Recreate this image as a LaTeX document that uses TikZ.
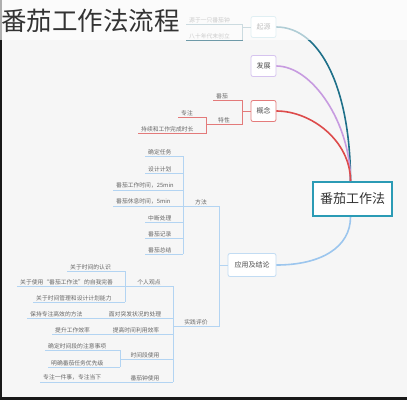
\documentclass[tikz,border=0pt]{standalone}
\usepackage{fontspec}
\setmainfont{Noto Sans CJK SC}
\definecolor{bgc}{HTML}{F6F6F6}
\definecolor{txtc}{HTML}{666666}
\definecolor{qyline}{HTML}{1E7089}
\definecolor{qyleaf}{HTML}{6E9AA8}
\definecolor{qyborder}{HTML}{A9D3DF}
\definecolor{fzline}{HTML}{C79BE0}
\definecolor{fzborder}{HTML}{D6C4EF}
\definecolor{gnline}{HTML}{DD4B4B}
\definecolor{gnleaf}{HTML}{E37A7A}
\definecolor{gnborder}{HTML}{E47B7B}
\definecolor{yyline}{HTML}{9CC6EE}
\definecolor{yyleaf}{HTML}{B3D4F2}
\definecolor{yyborder}{HTML}{C2DCF3}
\definecolor{ctrc}{HTML}{2B9BB5}
\tikzset{
  sm/.style={font=\fontsize{5.8}{6}\selectfont, text=txtc, inner xsep=3pt, inner ysep=1.2pt, anchor=south west},
  midleaf/.style={font=\fontsize{5.8}{6}\selectfont, text=txtc, inner xsep=0pt, inner ysep=1.2pt, anchor=south},
  topic/.style={draw, fill=white, rounded corners=2pt, line width=0.8pt, minimum width=25pt, minimum height=21pt, inner sep=2pt, font=\fontsize{7}{8}\selectfont, text=black!70},
  branch/.style={line width=1.6pt},
  lk/.style={line width=0.6pt}
}
\begin{document}
\begin{tikzpicture}[x=1pt,y=-1pt]
\useasboundingbox (0,0) rectangle (407,400);
\fill[bgc] (0,0) rectangle (407,400);

% main topics
\node[topic, draw=qyborder] (qy) at (263.5,27) {起源};
\node[topic, draw=fzborder] (fz) at (263.5,66) {发展};
\node[topic, draw=gnborder] (gn) at (263.5,111) {概念};
\node[topic, draw=yyborder, minimum width=48pt, minimum height=23pt] (yy) at (252,265) {应用及结论};
\node[draw=ctrc, line width=2pt, fill=white, minimum width=79pt, minimum height=34pt, inner sep=2pt, font=\fontsize{13}{14}\selectfont, text=black!80] (c) at (352.5,199) {番茄工作法};

% branches
\draw[branch, qyline] (qy.east) .. controls +(45,0) and +(0,-90) .. ([xshift=-2pt]c.north);
\draw[branch, fzline] (fz.east) .. controls +(36,0) and +(0,-58) .. ([xshift=-2pt]c.north);
\draw[branch, gnline] (gn.east) .. controls +(35,0) and +(0,-40) .. ([xshift=-2pt]c.north);
\draw[branch, yyline] (yy.east) .. controls +(45,0) and +(0,30) .. ([xshift=-2pt]c.south);

% bracket x positions
\coordinate (qbr) at (242,0);
\coordinate (gbr) at (242,0);
\coordinate (tbr) at (206,0);
\coordinate (abr) at (219,0);
\coordinate (fbr) at (183,0);
\coordinate (sbr) at (173,0);
\coordinate (pbr) at (125,0);
\coordinate (rbr) at (100,0);
\coordinate (dbr) at (120,0);

% 起源
\node[sm] (q1) at (186,24) {源于一只番茄钟};
\node[sm] (q2) at (186,40) {八十年代末创立};
\draw[lk, qyleaf] (q1.south west) -- (q1.south -| qbr) -- (q2.south -| qbr) -- (q2.south west);
\draw[lk, qyleaf] (qy.west) -- (qy.west -| qbr);

% 概念
\node[sm] (g1) at (213,100) {番茄};
\node[midleaf] (g2) at (224,124) {特性};
\node[sm] (g21) at (178,117) {专注};
\node[sm] (g22) at (138,133) {持续和工作完成时长};
\draw[lk, gnleaf] (g1.south west) -- (g1.south -| gbr) -- (g2.south -| gbr) -- (g2.south -| tbr);
\draw[lk, gnleaf] (gn.west) -- (gn.west -| gbr);
\draw[lk, gnleaf] (g21.south west) -- (g21.south -| tbr) -- (g22.south -| tbr) -- (g22.south west);

% 应用及结论
\node[midleaf] (a1) at (201,206) {方法};
\node[midleaf] (a2) at (196,326) {实践评价};
\draw[lk, yyleaf] (a1.south -| fbr) -- (a1.south -| abr) -- (a2.south -| abr) -- (a2.south -| sbr);
\draw[lk, yyleaf] (yy.west) -- (yy.west -| abr);

% 方法 children
\node[sm] (f1) at (145,156) {确定任务};
\node[sm] (f2) at (145,173) {设计计划};
\node[sm] (f3) at (113,190) {番茄工作时间，25min};
\node[sm] (f4) at (113,206) {番茄休息时间，5min};
\node[sm] (f5) at (145,222) {中断处理};
\node[sm] (f6) at (145,238) {番茄记录};
\node[sm] (f7) at (145,254) {番茄总结};
\foreach \n in {f1,f2,f3,f4,f5,f6,f7}
  \draw[lk, yyleaf] (\n.south west) -- (\n.south -| fbr);
\draw[lk, yyleaf] (f1.south -| fbr) -- (f7.south -| fbr);

% 实践评价 children
\node[midleaf] (s1) at (149,286) {个人观点};
\node[midleaf] (s2) at (135,318) {面对突发状况的处理};
\node[midleaf] (s3) at (136,334) {提高时间利用效率};
\node[midleaf] (s4) at (145,359) {时间段使用};
\node[midleaf] (s5) at (145,382) {番茄钟使用};
\draw[lk, yyleaf] (s1.south -| sbr) -- (s5.south -| sbr);
\draw[lk, yyleaf] (s1.south -| pbr) -- (s1.south -| sbr);
\draw[lk, yyleaf] (s2.south -| rbr) -- (s2.south -| sbr);
\draw[lk, yyleaf] (s3.south -| rbr) -- (s3.south -| sbr);
\draw[lk, yyleaf] (s4.south -| dbr) -- (s4.south -| sbr);
\draw[lk, yyleaf] (s5.south -| rbr) -- (s5.south -| sbr);

% 个人观点 children
\node[sm] (p1) at (67,271) {关于时间的认识};
\node[sm] (p2) at (17,286) {关于使用“番茄工作法”的自我完善};
\node[sm] (p3) at (33,302) {关于时间管理和设计计划能力};
\foreach \n in {p1,p2,p3}
  \draw[lk, yyleaf] (\n.south west) -- (\n.south -| pbr);
\draw[lk, yyleaf] (p1.south -| pbr) -- (p3.south -| pbr);

% single children
\node[sm] (r1) at (27,318) {保持专注高效的方法};
\node[sm] (r2) at (52,334) {提升工作效率};
\node[sm] (r3) at (40,382) {专注一件事，专注当下};
\foreach \n in {r1,r2,r3}
  \draw[lk, yyleaf] (\n.south west) -- (\n.south -| rbr);

% 时间段 children
\node[sm] (d1) at (45,350) {确定时间段的注意事项};
\node[sm] (d2) at (48,367) {明确番茄任务优先级};
\foreach \n in {d1,d2}
  \draw[lk, yyleaf] (\n.south west) -- (\n.south -| dbr);
\draw[lk, yyleaf] (d1.south -| dbr) -- (d2.south -| dbr);

% frame edges
\fill[black!90] (0,0) rectangle (1.8,400);
\fill[black!90] (0,397) rectangle (407,400);

% top overlay and title
\fill[white, opacity=0.65] (0,0) rectangle (407,39.5);
\node[anchor=base west, inner sep=0, font=\fontsize{25.5}{26}\selectfont, text=black!80] (title) at (1,30) {番茄工作法流程};
\end{tikzpicture}
\end{document}
